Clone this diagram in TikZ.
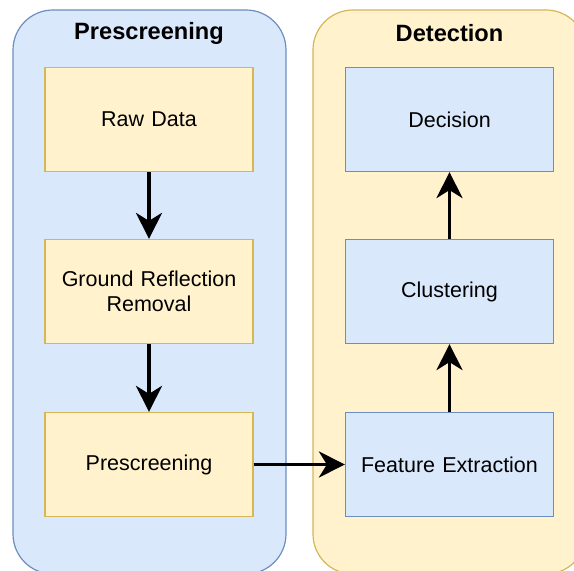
\documentclass[tikz,border=0pt]{standalone}
\usepackage{fontspec}
\setmainfont{Liberation Sans}
\usetikzlibrary{arrows.meta}

\definecolor{bluefill}{HTML}{DAE8FC}
\definecolor{bluedraw}{HTML}{6C8EBF}
\definecolor{yellowfill}{HTML}{FFF2CC}
\definecolor{yellowdraw}{HTML}{D6B656}

\begin{document}
\begin{tikzpicture}[x=0.5pt,y=-0.5pt,
    stage/.style={rectangle, line width=0.6pt, minimum width=104pt, minimum height=52pt,
      inner sep=2pt, align=center, text width=100pt,
      font=\fontsize{10.75}{12.75}\selectfont},
    yellowbox/.style={stage, fill=yellowfill, draw=yellowdraw},
    bluebox/.style={stage, fill=bluefill, draw=bluedraw},
    title/.style={font=\fontsize{11.8}{14}\selectfont\bfseries},
    flow/.style={line width=1.8pt, -{Stealth[length=13pt,width=13pt,inset=4pt]}}]
    \useasboundingbox (0,0) rectangle (574,571);
    \clip (0,0) rectangle (574,571);
    % containers
    \draw [fill=bluefill, draw=bluedraw, line width=0.6pt, rounded corners=20pt] (13,10) rectangle (286,574);
    \draw [fill=yellowfill, draw=yellowdraw, line width=0.6pt, rounded corners=20pt] (313,10) rectangle (586,574);
    \node [title] (pretitle) at (149,33) {Prescreening};
    \node [title] (dettitle) at (449.5,33) {Detection};
    % left column
    \node [yellowbox] (raw) at (149,119.5) {Raw Data};
    \node [yellowbox] (ground) at (149,291.5) {Ground Reflection\\Removal};
    \node [yellowbox] (prescreen) at (149,464.5) {Prescreening};
    % right column
    \node [bluebox] (decision) at (449.5,119.5) {Decision};
    \node [bluebox] (cluster) at (449.5,291.5) {Clustering};
    \node [bluebox] (feature) at (449.5,464.5) {Feature Extraction};
    % arrows
    \draw [flow] (raw) -- (ground);
    \draw [flow] (ground) -- (prescreen);
    \draw [flow] (prescreen) -- (feature);
    \draw [flow] (feature) -- (cluster);
    \draw [flow] (cluster) -- (decision);
\end{tikzpicture}
\end{document}
